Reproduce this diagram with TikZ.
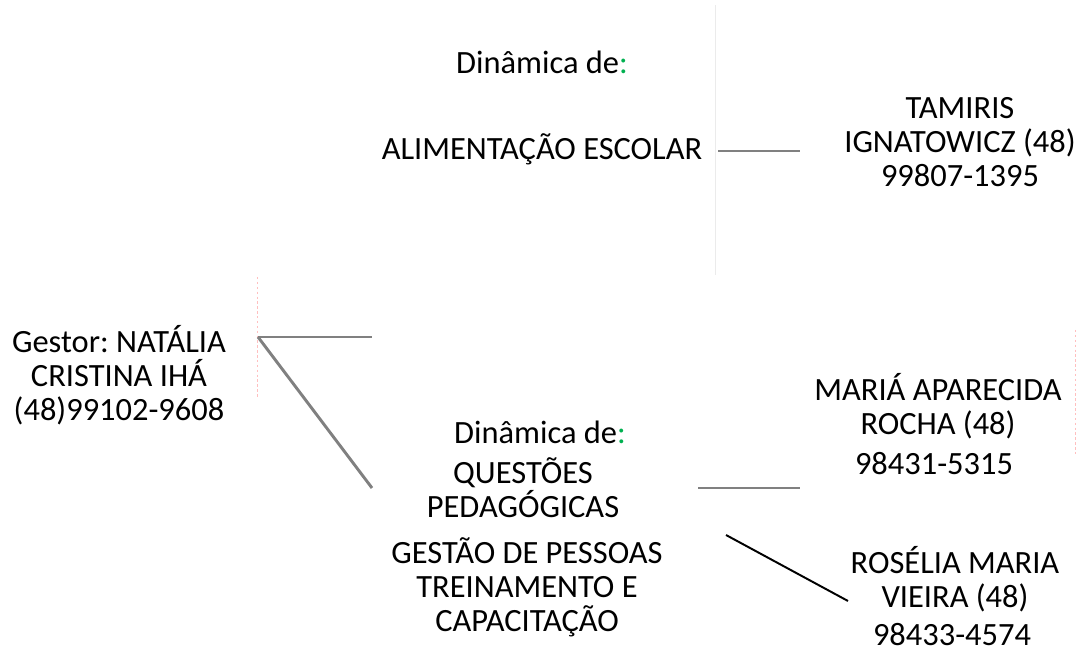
\documentclass[tikz,border=0pt]{standalone}
\usepackage{fontspec}
\setmainfont{Carlito}
\usepackage{tikz}
\usetikzlibrary{positioning}
\definecolor{colgreen}{RGB}{0,176,80}
\definecolor{linegray}{RGB}{128,128,128}
\frenchspacing

\begin{document}
\begin{tikzpicture}[x=0.0144cm,y=-0.0144cm,
  txt/.style={align=center,inner sep=0pt,font=\fontsize{13.3}{14}\selectfont},
  con/.style={linegray,line width=1.2pt},
  faint/.style={red!25,line width=0.3pt,dash pattern=on 1pt off 1pt}]
  \useasboundingbox (0,0) rectangle (1092,652);
  % faint box edges
  \draw[black!8,line width=0.3pt] (715,5) -- (715,275);
  \draw[faint] (257,277) -- (257,398);
  \draw[faint] (1075,330) -- (1075,455);
  % top branch
  \node[txt] (din1) at (542,62) {Dinâmica de\textcolor{colgreen}{:}};
  \node[txt] (alim) at (542,149) {ALIMENTAÇÃO ESCOLAR};
  \node[txt] (tamiris) at (960,142) {TAMIRIS\\IGNATOWICZ (48)\\99807-1395};
  \coordinate (alim-out) at (718,151);
  \coordinate (tam-in) at (800,151);
  \draw[con] (alim-out) -- (tam-in);
  % gestor
  \node[txt] (gestor) at (119,375) {Gestor: NATÁLIA\\CRISTINA IHÁ\\(48)99102-9608};
  \coordinate (gest-out) at (258,337);
  \coordinate (top-in) at (372,337);
  \coordinate (low-in) at (372,488);
  \draw[con] (gest-out) -- (top-in);
  \draw[con] (gest-out) -- (low-in);
  % lower branch
  \node[txt] (din2) at (540,432) {Dinâmica de\textcolor{colgreen}{:}};
  \node[txt] (quest) at (523,488) {QUESTÕES\\PEDAGÓGICAS};
  \node[txt] (gestao) at (527,587) {GESTÃO DE PESSOAS\\TREINAMENTO E\\CAPACITAÇÃO};
  \node[txt] (maria) at (938,406) {MARIÁ APARECIDA\\ROCHA (48)};
  \node[txt] (fone1) at (934,464) {98431-5315};
  \node[txt] (roselia) at (955,579) {ROSÉLIA MARIA\\VIEIRA (48)};
  \node[txt,text depth=0pt,anchor=base] (fone2) at (952,646) {98433-4574};
  \coordinate (quest-out) at (698,488);
  \coordinate (maria-in) at (800,488);
  \draw[con] (quest-out) -- (maria-in);
  \coordinate (gestao-out) at (726,535);
  \coordinate (ros-in) at (848,601);
  \draw[line width=0.8pt] (gestao-out) -- (ros-in);
\end{tikzpicture}
\end{document}
